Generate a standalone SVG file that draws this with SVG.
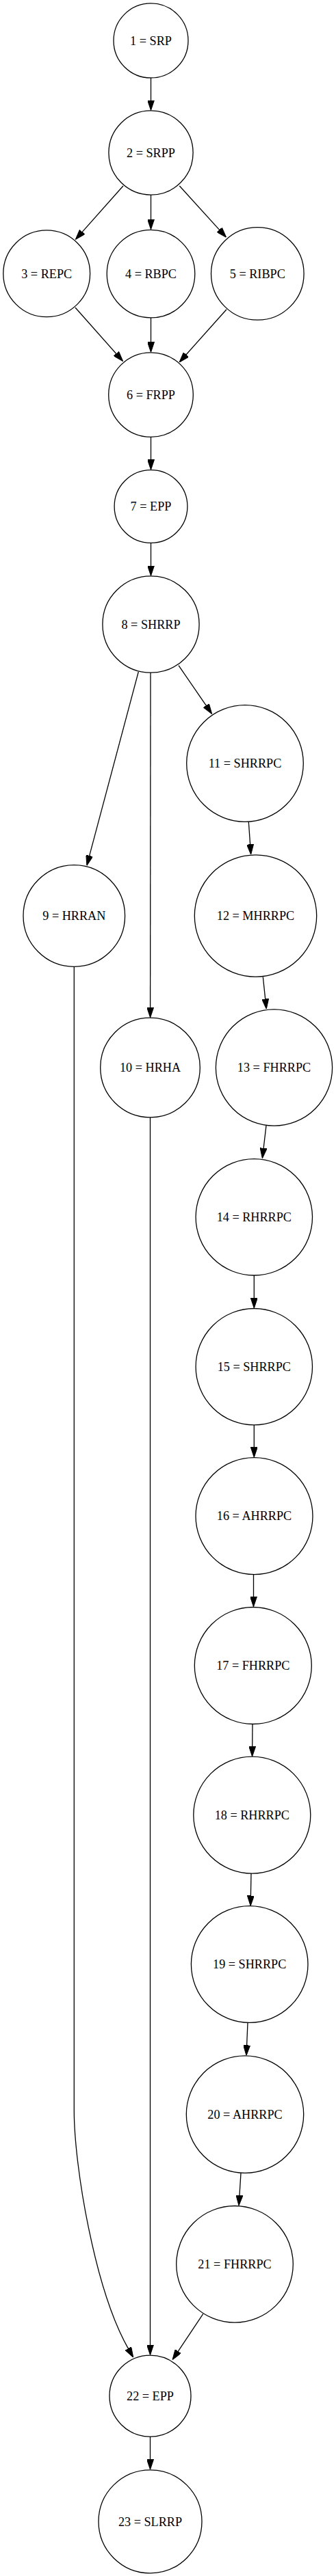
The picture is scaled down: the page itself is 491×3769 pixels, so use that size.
<svg xmlns="http://www.w3.org/2000/svg" width="491" height="3769" viewBox="0 0 491 3769">
<style>
.node circle{fill:#fff;stroke:#000;stroke-width:1.3}
.node text{font-family:"Liberation Serif","Times New Roman",serif;font-size:18.2px;fill:#000;text-anchor:middle}
.edge{fill:none;stroke:#000;stroke-width:1.3;marker-end:url(#arr)}
</style>
<defs>
<marker id="arr" viewBox="0 0 15 10" markerWidth="15" markerHeight="10" refX="0.5" refY="5" orient="auto" markerUnits="userSpaceOnUse">
<path d="M0,0 L15,5 L0,10 z" fill="#000" stroke="#000" stroke-width="1"/>
</marker>
</defs>
<rect width="491" height="3769" fill="#fff"/>
<g id="edges">
<path class="edge" d="M220.5,113.9 L220.5,147"/>
<path class="edge" d="M220.5,285 L220.5,321.3"/>
<path class="edge" d="M180,272 L119.96,339.59"/>
<path class="edge" d="M262.3,272 L320.92,336.59"/>
<path class="edge" d="M220.5,465 L220.5,500.9"/>
<path class="edge" d="M110,450 L170.05,517.77"/>
<path class="edge" d="M331,452.8 L271.69,519.21"/>
<path class="edge" d="M220.5,639.4 L220.5,672.9"/>
<path class="edge" d="M220.5,794.3 L220.5,828"/>
<path class="edge" d="M202.3,983 L130.56,1252.41"/>
<path class="edge" d="M220,984 L219.6,1474.3"/>
<path class="edge" d="M261,973.7 L301.5,1032.64"/>
<path class="edge" d="M363.3,1202.3 L365.65,1235.84"/>
<path class="edge" d="M384.3,1429.3 L387.73,1461.88"/>
<path class="edge" d="M389,1646.8 L385.05,1680.4"/>
<path class="edge" d="M371.3,1866 L371.3,1899.6"/>
<path class="edge" d="M371.3,2084.7 L371.3,2117.8"/>
<path class="edge" d="M370.5,2303.6 L370.5,2336.4"/>
<path class="edge" d="M369,2522.3 L368.7,2555.4"/>
<path class="edge" d="M367,2740.9 L366.4,2774"/>
<path class="edge" d="M362,2959 L360.6,2992.9"/>
<path class="edge" d="M352,3179.4 L349.93,3212.53"/>
<path class="edge" d="M108.3,1414 L108.3,3088 C108.3,3168 138.2,3349.7 187.6,3436.6"/>
<path class="edge" d="M219.5,1634.5 L219.5,3431.2"/>
<path class="edge" d="M296.7,3385.7 L260.04,3440.53"/>
<path class="edge" d="M219.5,3565 L219.5,3598.8"/>
</g>
<g id="n1" class="node"><circle cx="220.5" cy="59.4" r="54.5"/><text x="220.5" y="65.6">1 = SRP</text></g>
<g id="n2" class="node"><circle cx="220.5" cy="223.5" r="61.6"/><text x="220.5" y="229.7">2 = SRPP</text></g>
<g id="n3" class="node"><circle cx="68.2" cy="400.3" r="63.4"/><text x="68.2" y="406.5">3 = REPC</text></g>
<g id="n4" class="node"><circle cx="220.5" cy="400.6" r="64.3"/><text x="220.5" y="406.8">4 = RBPC</text></g>
<g id="n5" class="node"><circle cx="376.3" cy="400.4" r="67.8"/><text x="376.3" y="406.6">5 = RIBPC</text></g>
<g id="n6" class="node"><circle cx="220.5" cy="577.6" r="61.8"/><text x="220.5" y="583.8">6 = FRPP</text></g>
<g id="n7" class="node"><circle cx="220.5" cy="741" r="53.4"/><text x="220.5" y="747.2">7 = EPP</text></g>
<g id="n8" class="node"><circle cx="220.5" cy="913.5" r="70.6"/><text x="220.5" y="919.7">8 = SHRRP</text></g>
<g id="n9" class="node"><circle cx="108.3" cy="1340" r="74.3"/><text x="108.3" y="1346.2">9 = HRRAN</text></g>
<g id="n10" class="node"><circle cx="219.5" cy="1562" r="72.8"/><text x="219.5" y="1568.2">10 = HRHA</text></g>
<g id="n11" class="node"><circle cx="358" cy="1117" r="85.3"/><text x="358" y="1123.2">11 = SHRRPC</text></g>
<g id="n12" class="node"><circle cx="373.5" cy="1340" r="89.2"/><text x="373.5" y="1346.2">12 = MHRRPC</text></g>
<g id="n13" class="node"><circle cx="400.5" cy="1562" r="85.1"/><text x="400.5" y="1568.2">13 = FHRRPC</text></g>
<g id="n14" class="node"><circle cx="371.3" cy="1780.8" r="85.2"/><text x="371.3" y="1787">14 = RHRRPC</text></g>
<g id="n15" class="node"><circle cx="371.3" cy="1999.7" r="85.2"/><text x="371.3" y="2005.9">15 = SHRRPC</text></g>
<g id="n16" class="node"><circle cx="371.5" cy="2218.2" r="85.5"/><text x="371.5" y="2224.4">16 = AHRRPC</text></g>
<g id="n17" class="node"><circle cx="369.8" cy="2437" r="85.5"/><text x="369.8" y="2443.2">17 = FHRRPC</text></g>
<g id="n18" class="node"><circle cx="368.3" cy="2655.6" r="85.5"/><text x="368.3" y="2661.8">18 = RHRRPC</text></g>
<g id="n19" class="node"><circle cx="364.7" cy="2874" r="85.3"/><text x="364.7" y="2880.2">19 = SHRRPC</text></g>
<g id="n20" class="node"><circle cx="358" cy="3093.6" r="85.7"/><text x="358" y="3099.8">20 = AHRRPC</text></g>
<g id="n21" class="node"><circle cx="343" cy="3312.8" r="85.3"/><text x="343" y="3319">21 = FHRRPC</text></g>
<g id="n22" class="node"><circle cx="219.5" cy="3505.6" r="59.5"/><text x="219.5" y="3511.8">22 = EPP</text></g>
<g id="n23" class="node"><circle cx="219.5" cy="3689.3" r="75.5"/><text x="219.5" y="3695.5">23 = SLRRP</text></g>
</svg>
